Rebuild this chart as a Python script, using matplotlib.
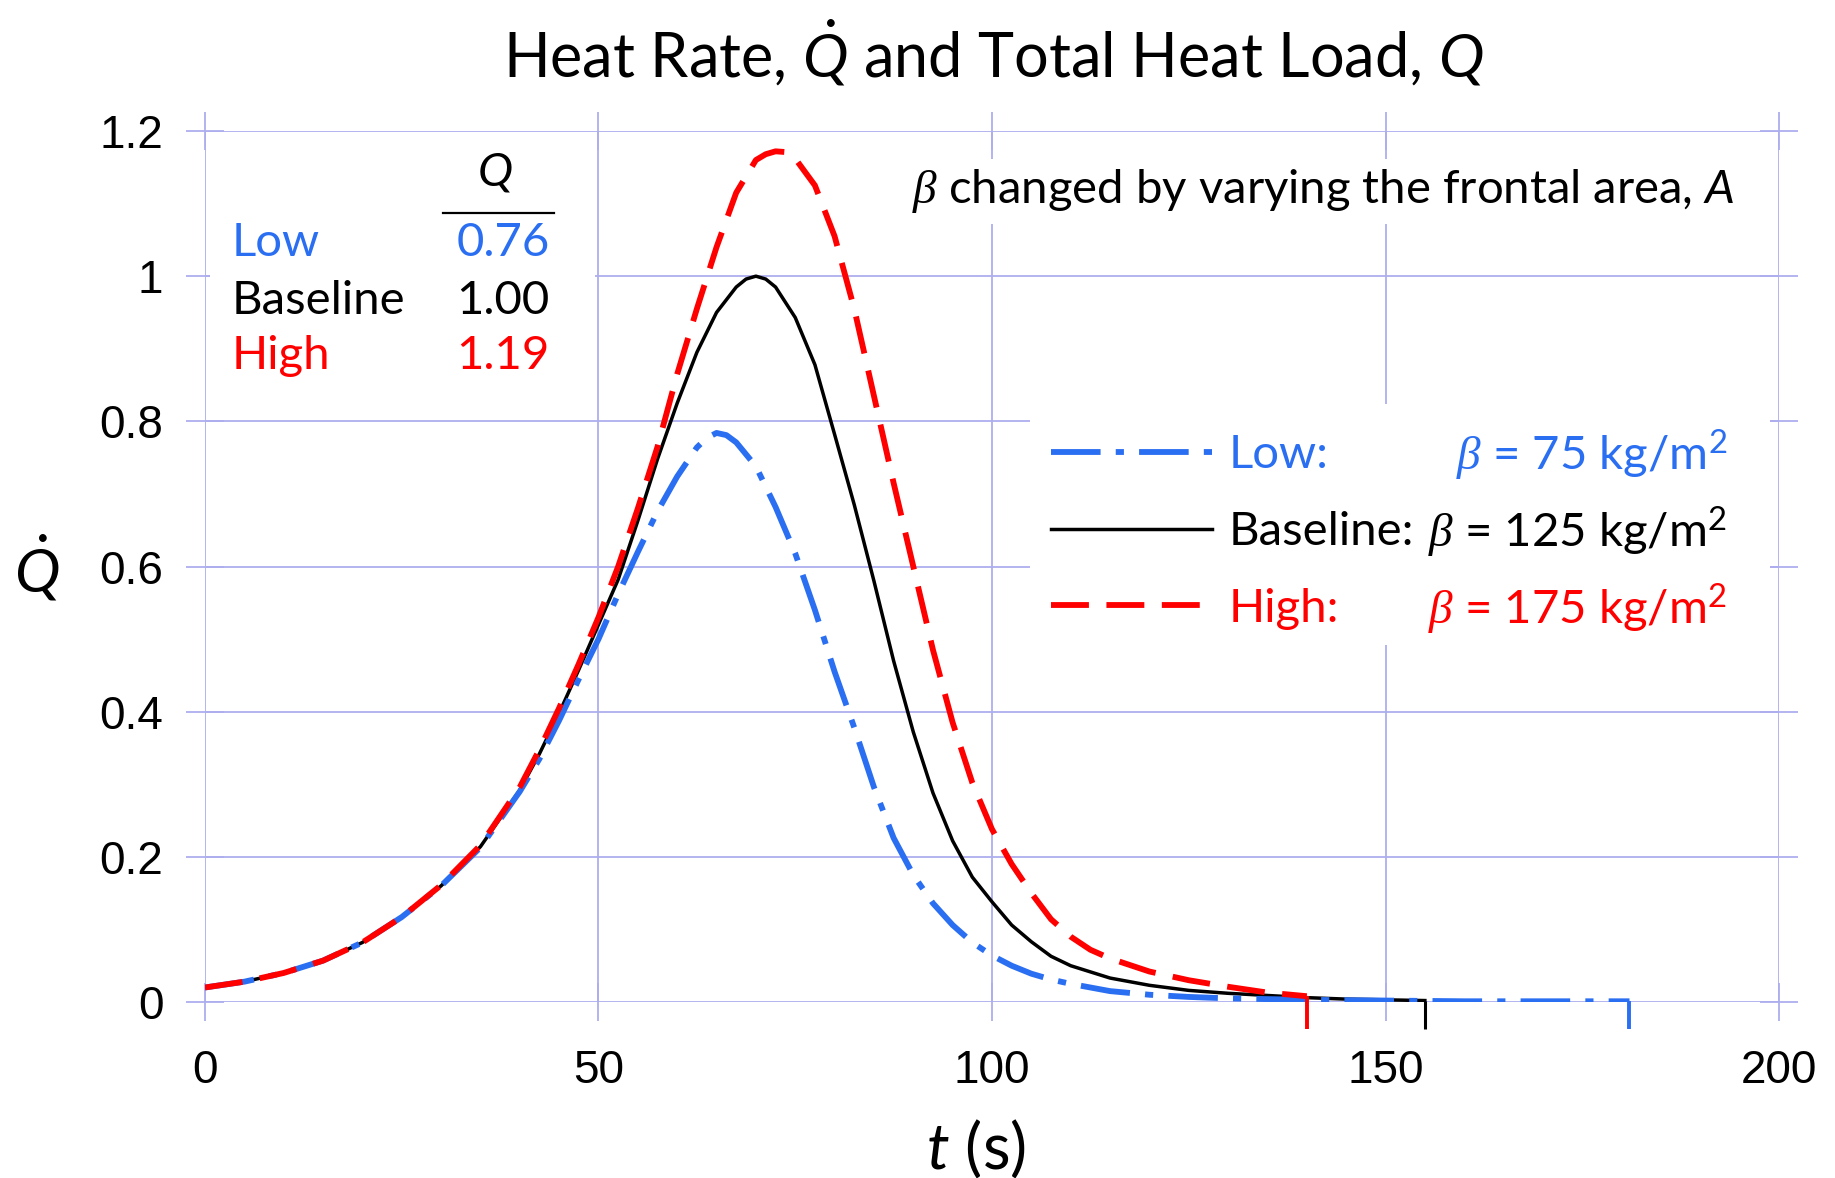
import matplotlib
matplotlib.use("Agg")
import matplotlib.pyplot as plt
from matplotlib.patches import Rectangle

plt.rcParams['font.family'] = ['Lato', 'DejaVu Sans']
plt.rcParams['mathtext.fontset'] = 'custom'
plt.rcParams['mathtext.rm'] = 'Lato'
plt.rcParams['mathtext.it'] = 'Lato:italic'
plt.rcParams['mathtext.cal'] = 'Liberation Serif:italic'
plt.rcParams['mathtext.fallback'] = 'cm'

# ---- data ----
t_common = [0, 5, 10, 15, 20, 25, 30, 35, 40]

t_low = t_common + [42.5, 45, 47.5, 50, 52.5, 55, 57.5, 60, 62.5, 63.75, 65, 66.25, 67.5, 70,
                    72.5, 75, 77.5, 80, 82.5, 85, 87.5, 90, 92.5, 95, 97.5, 100, 102.5, 105,
                    107.5, 110, 115, 120, 125, 130, 140, 150, 160, 170, 181]
q_low = [0.020, 0.028, 0.040, 0.057, 0.082, 0.117, 0.160, 0.213, 0.290,
         0.335, 0.388, 0.445, 0.500, 0.562, 0.620, 0.676, 0.724, 0.764, 0.777, 0.784, 0.781,
         0.771, 0.738, 0.682, 0.618, 0.540, 0.455, 0.378, 0.296, 0.226, 0.175, 0.136, 0.106,
         0.082, 0.064, 0.050, 0.039, 0.031, 0.025,
         0.015, 0.010, 0.007, 0.005, 0.003, 0.002, 0.001, 0.001, 0.001]

t_base = t_common + [42.5, 45, 47.5, 50, 52.5, 55, 57.5, 60, 62.5, 65, 67.5, 68.75, 70, 71.25,
                     72.5, 75, 77.5, 80, 82.5, 85, 87.5, 90, 92.5, 95, 97.5, 100, 102.5, 105,
                     107.5, 110, 115, 120, 125, 130, 135, 140, 145, 150, 155]
q_base = [0.020, 0.028, 0.040, 0.057, 0.082, 0.117, 0.160, 0.214, 0.292,
          0.342, 0.398, 0.458, 0.520, 0.582, 0.663, 0.748, 0.825, 0.895, 0.950, 0.985, 0.996,
          1.000, 0.996, 0.985, 0.943, 0.878, 0.782, 0.685, 0.580, 0.470, 0.372, 0.288, 0.222,
          0.172, 0.138, 0.106, 0.083, 0.063, 0.050,
          0.033, 0.023, 0.016, 0.012, 0.009, 0.006, 0.004, 0.003, 0.002]

t_high = t_common + [42.5, 45, 47.5, 50, 52.5, 55, 57.5, 60, 62.5, 65, 67.5, 70, 71.25, 72.5,
                     73.75, 75, 77.5, 80, 82.5, 85, 87.5, 90, 92.5, 95, 97.5, 100, 102.5, 105,
                     107.5, 110, 112.5, 115, 120, 125, 130, 135, 140]
q_high = [0.020, 0.028, 0.040, 0.057, 0.082, 0.117, 0.161, 0.216, 0.296,
          0.348, 0.405, 0.466, 0.530, 0.600, 0.680, 0.765, 0.865, 0.955, 1.040, 1.115, 1.160,
          1.168, 1.172, 1.171, 1.162, 1.125, 1.055, 0.955, 0.835, 0.715, 0.600, 0.485, 0.385,
          0.302, 0.238, 0.190, 0.150, 0.114, 0.090, 0.072, 0.060,
          0.042, 0.030, 0.021, 0.013, 0.008]

cases = ['Low', 'Baseline', 'High']
betas = [75, 125, 175]
Q_total = ['0.76', '1.00', '1.19']

blue = '#2A6EF2'
red = '#FF0000'
black = '#000000'
grid_c = '#AEAEEE'
colors = [blue, black, red]

fig = plt.figure(figsize=(18.35, 11.78), dpi=100)
ax = fig.add_axes([0.1117, 0.1494, 0.8578, 0.7394])

ln_low, = ax.plot(t_low, q_low, color=blue, lw=4.2, dashes=(8.5, 2.6, 1.4, 2.6),
                  label='Low:', zorder=4)
ln_base, = ax.plot(t_base, q_base, color=black, lw=2.5, label='Baseline:', zorder=3)
ln_high, = ax.plot(t_high, q_high, color=red, lw=4.2, dashes=(6.5, 3),
                   label='High:', zorder=5)

# drop marks at the end of each run
for t, q, c, w in [(t_low, q_low, blue, 2.8), (t_base, q_base, black, 2.2), (t_high, q_high, red, 2.8)]:
    ax.vlines(t[-1], -0.037, q[-1], colors=c, lw=w, clip_on=False, zorder=6)

ax.set_xlim(0, 200)
ax.set_ylim(0, 1.2)
ax.set_xticks([0, 50, 100, 150, 200])
ax.set_yticks([0, 0.2, 0.4, 0.6, 0.8, 1.0, 1.2])
ax.set_yticklabels(['0', '0.2', '0.4', '0.6', '0.8', '1', '1.2'])
ax.set_axisbelow(True)
ax.grid(True, color=grid_c, lw=1.3)
for s in ax.spines.values():
    s.set_visible(False)
ax.tick_params(direction='inout', length=28, width=1.3, color=grid_c,
               top=True, right=True, labelsize=33)
ax.tick_params(axis='x', pad=20)
ax.tick_params(axis='y', pad=16)
for lab in ax.get_xticklabels() + ax.get_yticklabels():
    lab.set_family('Liberation Sans')

# white boxes that hide the grid behind the annotations
ax.add_patch(Rectangle((0.003, 0.72), 0.245, 0.265, transform=ax.transAxes,
                       facecolor='white', edgecolor='none', zorder=1))
ax.add_patch(Rectangle((0.524, 0.41), 0.47, 0.277, transform=ax.transAxes,
                       facecolor='white', edgecolor='none', zorder=1))

# Q table
ax.text(0.184, 0.952, '$Q$', ha='center', va='center', fontsize=34,
        transform=ax.transAxes)
ax.plot([0.151, 0.222], [0.906, 0.906], transform=ax.transAxes, color='black', lw=1.6,
        clip_on=False)
rows_y = [0.871, 0.805, 0.742]
for name, val, c, y in zip(cases, Q_total, colors, rows_y):
    ax.text(0.017, y, name, ha='left', va='center', fontsize=34, color=c,
            transform=ax.transAxes)
    ax.text(0.219, y, val, ha='right', va='center', fontsize=34, color=c,
            transform=ax.transAxes)

ax.text(0.972, 0.931, r'$\mathcal{\beta}$ changed by varying the frontal area, $A$',
        ha='right', va='center', fontsize=34, transform=ax.transAxes,
        bbox=dict(facecolor='white', edgecolor='none', pad=6))

leg = ax.legend(handles=[ln_low, ln_base, ln_high], loc='upper left',
                bbox_to_anchor=(0.5375, 0.652), frameon=False, fontsize=34,
                borderpad=0, borderaxespad=0,
                handlelength=3.4, handletextpad=0.37, labelspacing=0.74)
for txt, c in zip(leg.get_texts(), colors):
    txt.set_color(c)

fig.canvas.draw()
inv = ax.transAxes.inverted()
for txt, b, c in zip(leg.get_texts(), betas, colors):
    bb = txt.get_window_extent()
    y = inv.transform(((bb.x0 + bb.x1) / 2, (bb.y0 + bb.y1) / 2))[1]
    ax.text(0.967, y, r'$\mathcal{\beta}$ = %d kg/m$^2$' % b, ha='right', va='center',
            fontsize=34, color=c, transform=ax.transAxes)

fig.text(0.541, 0.955, r'Heat Rate, $\dot{Q}$ and Total Heat Load, $Q$', ha='center',
         va='center', fontsize=44)
fig.text(0.532, 0.025, r'$t$ (s)', ha='center', va='center', fontsize=46)
fig.text(0.020, 0.518, r'$\dot{Q}$', ha='center', va='center', fontsize=44)

fig.savefig('out.png', dpi=100)
